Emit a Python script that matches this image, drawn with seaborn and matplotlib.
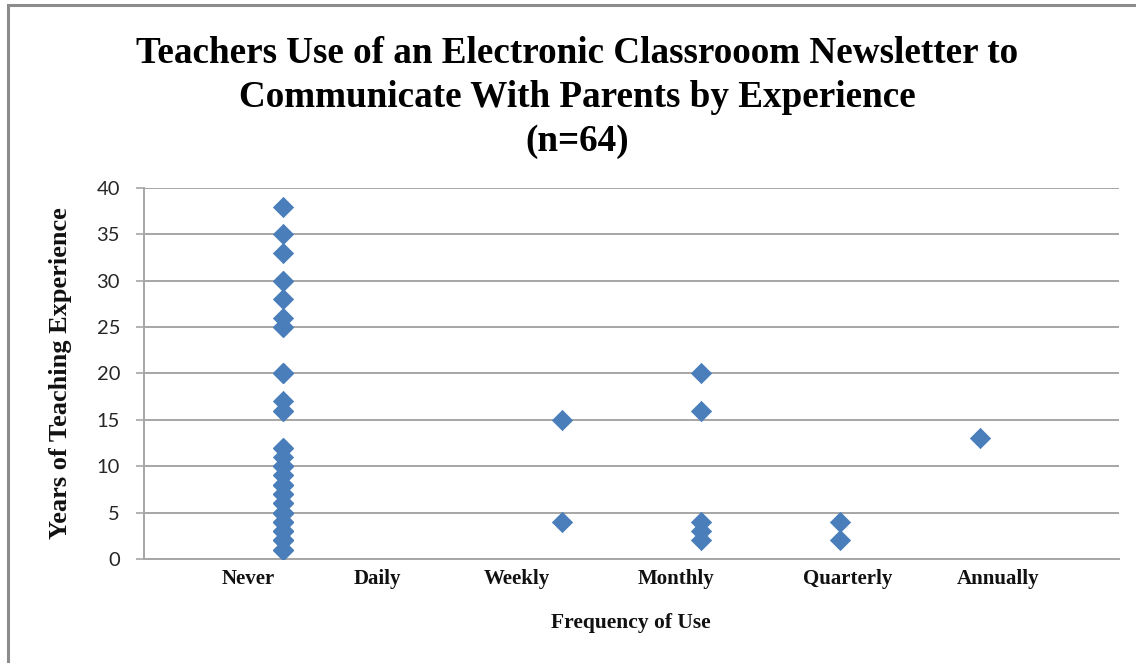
import matplotlib
matplotlib.use("Agg")
import matplotlib.pyplot as plt
from matplotlib.patches import Rectangle
import numpy as np
import pandas as pd
import seaborn as sns

# Frequency categories, in axis order
frequencies = ["Never", "Daily", "Weekly", "Monthly", "Quarterly", "Annually"]

# Years of teaching experience reported for each frequency of use
never_years = [38, 35, 33, 30, 30, 28, 26, 25, 25, 20, 20, 20, 17, 16, 16,
               12, 12, 11, 10, 10, 10, 10, 9, 9, 8, 8, 8, 8, 7, 7, 7,
               6, 6, 6, 5, 5, 5, 5, 5, 4, 4, 4, 4, 3, 3, 3, 3,
               2, 2, 2, 2, 1, 1, 1]
daily_years = []
weekly_years = [15, 4]
monthly_years = [20, 16, 4, 3, 2]
quarterly_years = [4, 2]
annually_years = [13]

y_ticks = [0, 5, 10, 15, 20, 25, 30, 35, 40]

groups = [never_years, daily_years, weekly_years, monthly_years,
          quarterly_years, annually_years]
rows = []
for idx, (name, vals) in enumerate(zip(frequencies, groups)):
    for v in vals:
        rows.append({"frequency": name, "position": idx + 1, "years": v})
df = pd.DataFrame(rows)

sns.set_theme(style="white")
serif = ["Liberation Serif", "DejaVu Serif"]

fig = plt.figure(figsize=(11.36, 6.63), dpi=100)
ax = fig.add_axes([0.1265, 0.1569, 0.8584, 0.5596])

sns.scatterplot(data=df, x="position", y="years", ax=ax, marker="D",
                s=105, color="#4A7EBB", edgecolor="#4A7EBB", linewidth=0.6,
                zorder=3, legend=False)

ax.set_xlim(0, 7)
ax.set_ylim(0, 40)
ax.set_yticks(y_ticks)
ax.yaxis.grid(True, color="#A6A6A6", linewidth=1.4)
ax.xaxis.grid(False)
ax.set_axisbelow(True)

for side in ["top", "right"]:
    ax.spines[side].set_visible(False)
ax.spines["left"].set_color("#A6A6A6")
ax.spines["left"].set_linewidth(1.4)
ax.spines["bottom"].set_color("#A6A6A6")
ax.spines["bottom"].set_linewidth(1.4)

ax.tick_params(axis="y", which="major", left=True, length=6, width=1.2,
               color="#A6A6A6", pad=11, labelsize=14.5)
for lab in ax.get_yticklabels():
    lab.set_fontfamily("Lato")
    lab.set_color("#262626")

# Category labels along the frequency axis
label_positions = [0.75, 1.68, 2.68, 3.82, 5.05, 6.13]
ax.set_xticks(label_positions)
ax.set_xticklabels(frequencies, fontfamily=serif, fontweight="bold",
                   fontsize=15, color="#111111")
ax.tick_params(axis="x", length=0, pad=7)

ax.set_xlabel("Frequency of Use", fontfamily=serif, fontweight="bold",
              fontsize=15.5, color="#111111")
ax.xaxis.set_label_coords((631 - 143.7) / 975.1, -0.145)
ax.set_ylabel("Years of Teaching Experience", fontfamily=serif,
              fontweight="bold", fontsize=19, color="#111111")
ax.yaxis.set_label_coords(-0.074, 0.5)

fig.text(0.508, 0.945,
         "Teachers Use of an Electronic Classrooom Newsletter to\n"
         "Communicate With Parents by Experience\n(n=64)",
         ha="center", va="top", fontfamily=serif, fontweight="bold",
         fontsize=26.7, linespacing=1.32, color="#000000")

# Chart frame along the left and top edges
fig.patches.append(Rectangle((8 / 1136, -0.1), 1.2, (663 - 5) / 663 + 0.1,
                             transform=fig.transFigure, fill=False,
                             edgecolor="#8C8C8C", linewidth=2.2))

fig.savefig("out.png", dpi=100)
